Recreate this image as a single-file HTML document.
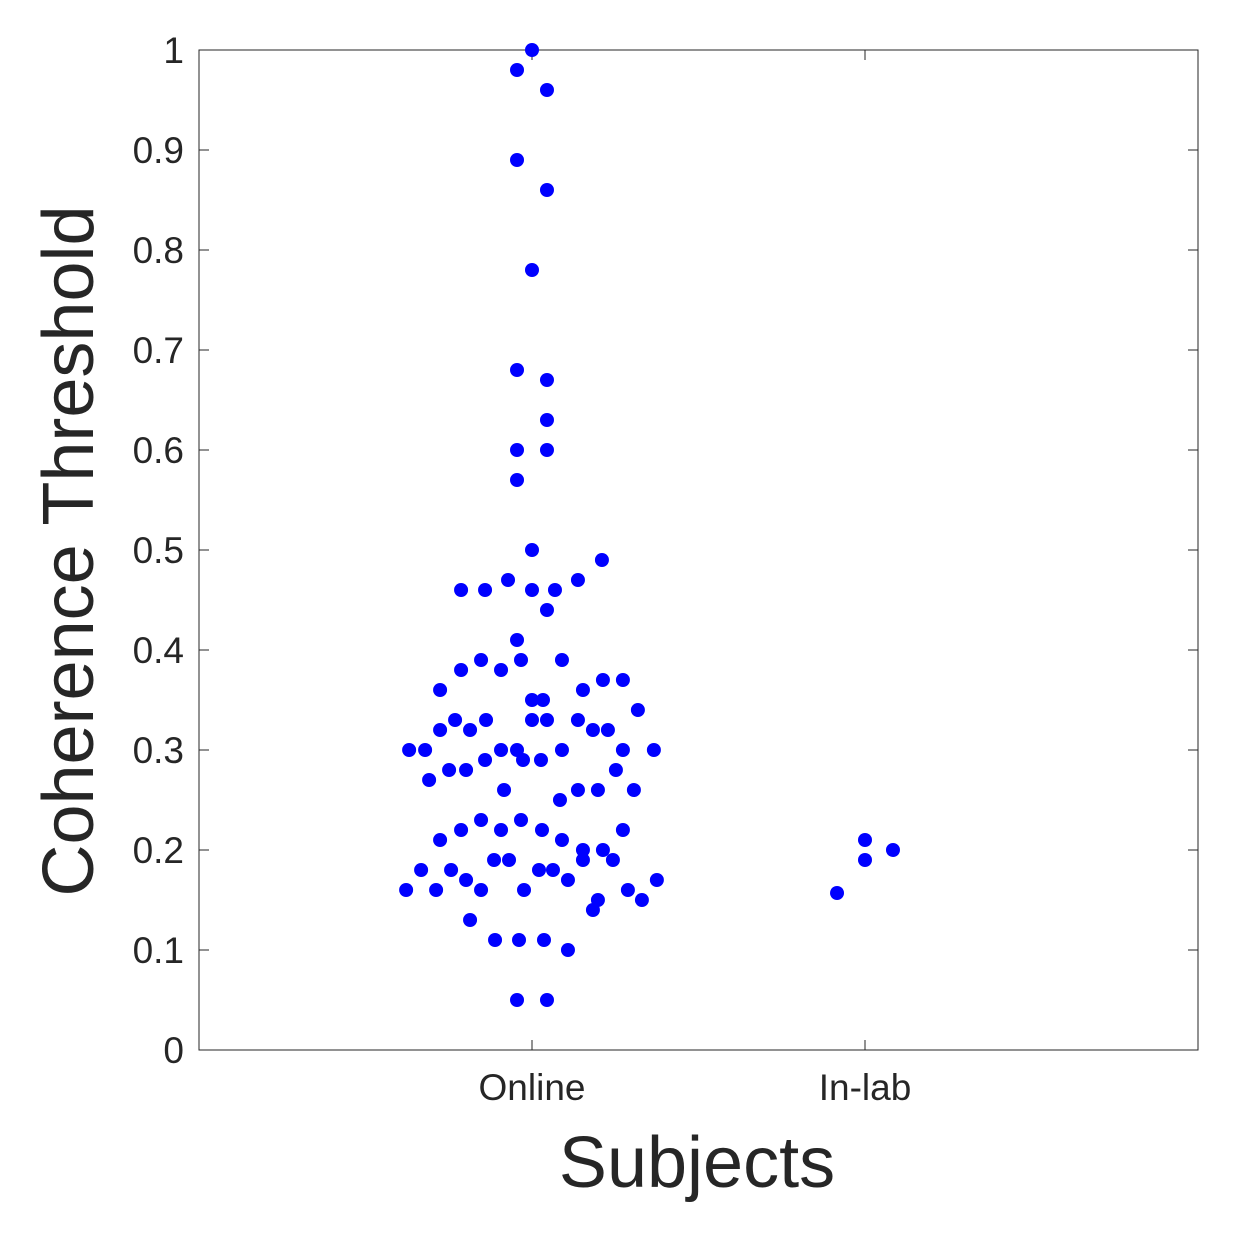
<!DOCTYPE html>
<html><head><meta charset="utf-8"><style>
html,body{margin:0;padding:0;background:#fff;}
svg{display:block;font-family:"Liberation Sans",Arial,sans-serif;}
</style></head><body>
<svg id="chart" width="1256" height="1248" viewBox="0 0 1256 1248"></svg>
<script>
const categories = ["Online", "In-lab"];
const yTicks = [0,0.1,0.2,0.3,0.4,0.5,0.6,0.7,0.8,0.9,1];
const yTickLabels = ["0","0.1","0.2","0.3","0.4","0.5","0.6","0.7","0.8","0.9","1"];
const onlineJitter = [0,-0.045,0.045,-0.045,0.045,0,-0.045,0.045,0.045,-0.045,0.045,-0.045,0,0.21,-0.213,-0.141,-0.072,0,0.069,0.138,0.045,-0.045,-0.153,-0.033,0.09,-0.213,-0.093,-0.276,0.153,0.213,0.273,0,0.033,0.318,-0.231,-0.138,0,0.045,0.138,-0.276,-0.186,0.183,0.228,-0.369,-0.321,-0.093,-0.045,0.09,0.273,0.366,-0.141,-0.027,0.027,-0.249,-0.198,0.252,-0.309,-0.084,0.138,0.198,0.306,0.084,-0.153,-0.033,-0.213,-0.093,0.03,0.273,-0.276,0.09,0.153,0.213,-0.114,-0.069,0.153,0.243,-0.333,-0.243,0.021,0.063,-0.198,0.108,0.375,-0.378,-0.288,-0.153,-0.024,0.288,0.198,0.33,0.183,-0.186,-0.111,-0.039,0.036,0.108,-0.045,0.045];
const onlineValues = [1.0,0.98,0.96,0.89,0.86,0.78,0.68,0.67,0.63,0.60,0.60,0.57,0.50,0.49,0.46,0.46,0.47,0.46,0.46,0.47,0.44,0.41,0.39,0.39,0.39,0.38,0.38,0.36,0.36,0.37,0.37,0.35,0.35,0.34,0.33,0.33,0.33,0.33,0.33,0.32,0.32,0.32,0.32,0.30,0.30,0.30,0.30,0.30,0.30,0.30,0.29,0.29,0.29,0.28,0.28,0.28,0.27,0.26,0.26,0.26,0.26,0.25,0.23,0.23,0.22,0.22,0.22,0.22,0.21,0.21,0.20,0.20,0.19,0.19,0.19,0.19,0.18,0.18,0.18,0.18,0.17,0.17,0.17,0.16,0.16,0.16,0.16,0.16,0.15,0.15,0.14,0.13,0.11,0.11,0.11,0.10,0.05,0.05];
const inlabJitter = [0,0.084,0,-0.084];
const inlabValues = [0.21,0.20,0.19,0.157];

const L=199,R=1198,T=50,B=1050;
const xMin=0,xMax=3,yMin=0,yMax=1;
const xs=v=>L+(v-xMin)/(xMax-xMin)*(R-L);
const ys=v=>B-(v-yMin)/(yMax-yMin)*(B-T);
const svg=document.getElementById('chart');
const NS="http://www.w3.org/2000/svg";
function mk(tag,attrs,text){const e=document.createElementNS(NS,tag);for(const k in attrs)e.setAttribute(k,attrs[k]);if(text!==undefined)e.textContent=text;svg.appendChild(e);return e;}

let box=mk('rect',{x:L,y:T,width:R-L,height:B-T,fill:'none',stroke:'#262626','stroke-width':1});



yTicks.forEach((t,i)=>{
  const y=ys(t);
  let a=mk('line',{x1:L,x2:L+10,y1:y,y2:y,stroke:'#262626'});
  
  
  let b=mk('line',{x1:R-10,x2:R,y1:y,y2:y,stroke:'#262626'});
  
  
  let l=mk('text',{x:184,y:y+13,'text-anchor':'end','font-size':37,fill:'#262626'},yTickLabels[i]);
  
  
});
categories.forEach((c,i)=>{
  const x=xs(i+1);
  let a=mk('line',{x1:x,x2:x,y1:B,y2:B-10,stroke:'#262626'});
  
  
  let b=mk('line',{x1:x,x2:x,y1:T,y2:T+10,stroke:'#262626'});
  
  
  let l=mk('text',{x:x,y:1100,'text-anchor':'middle','font-size':37,fill:'#262626'},c);
  
  
});
onlineValues.forEach((v,i)=>{
  let p=mk('circle',{cx:xs(1+onlineJitter[i]),cy:ys(v),r:7,fill:'#0000ff'});
  
  
});
inlabValues.forEach((v,i)=>{
  let p=mk('circle',{cx:xs(2+inlabJitter[i]),cy:ys(v),r:7,fill:'#0000ff'});
  
  
});
let xt=mk('text',{x:697,y:1187,'text-anchor':'middle','font-size':72,fill:'#262626'},'Subjects');


let yt=mk('text',{x:0,y:0,'text-anchor':'middle','font-size':72,fill:'#262626',transform:'translate(93,551) rotate(-90)'},'Coherence Threshold');


</script>
</body></html>
